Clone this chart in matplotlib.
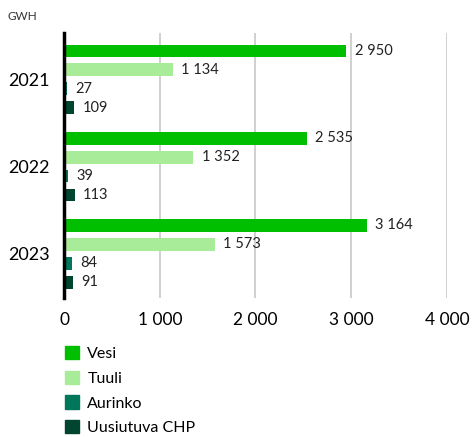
import matplotlib.pyplot as plt
from matplotlib.patches import Patch
import numpy as np

plt.rcParams['font.family'] = ['Lato', 'DejaVu Sans']

years = ["2021", "2022", "2023"]
series = ["Vesi", "Tuuli", "Aurinko", "Uusiutuva CHP"]
vesi = [2950, 2535, 3164]
tuuli = [1134, 1352, 1573]
aurinko = [27, 39, 84]
chp = [109, 113, 91]
colors = ["#00be00", "#a8eb98", "#00775a", "#00452f"]


def fmt(v):
    return "{:,}".format(v).replace(",", " ")


fig = plt.figure(figsize=(4.72, 4.37), dpi=100)
ax = fig.add_axes([64 / 472, 1 - 298 / 437, (447 - 64) / 472, (298 - 33) / 437])

gap = 4.6
data = [vesi, tuuli, aurinko, chp]
for i, vals in enumerate(data):
    pos = np.arange(len(years)) * gap + i
    ax.barh(pos, vals, height=0.68, color=colors[i], zorder=3)
    for p, v in zip(pos, vals):
        ax.annotate(fmt(v), (v, p), xytext=(6, 0), textcoords="offset points",
                    va="center", ha="left", fontsize=10.5, color="#222222")

ax.set_xlim(0, 4000)
ax.set_ylim(2 * gap + 3 + 0.84, -0.95)
ax.set_xticks([0, 1000, 2000, 3000, 4000])
ax.set_xticklabels([fmt(t) for t in [0, 1000, 2000, 3000, 4000]], fontsize=12.5)
ax.set_yticks(np.arange(len(years)) * gap + 1.5)
ax.set_yticklabels(years, fontsize=13)
ax.tick_params(length=0, pad=10)
ax.tick_params(axis='y', pad=10)
ax.grid(axis='x', color="#c8c8c8", linewidth=1.2, zorder=0)
for s in ["top", "right", "bottom"]:
    ax.spines[s].set_visible(False)
ax.spines["left"].set_linewidth(2.5)
ax.spines["left"].set_color("black")
ax.spines["left"].set_zorder(5)

fig.text(8 / 472, 1 - 17 / 437, "GWH", fontsize=8.5, va="center", color="#333333")

handles = [Patch(color=c) for c in colors]
fig.legend(handles, series, loc="upper left", bbox_to_anchor=(65 / 472, 1 - 346 / 437),
           frameon=False, fontsize=11.5, handlelength=0.9, handleheight=0.9,
           labelspacing=0.6, handletextpad=0.5, borderpad=0, borderaxespad=0)

fig.savefig("out.png", dpi=100)
